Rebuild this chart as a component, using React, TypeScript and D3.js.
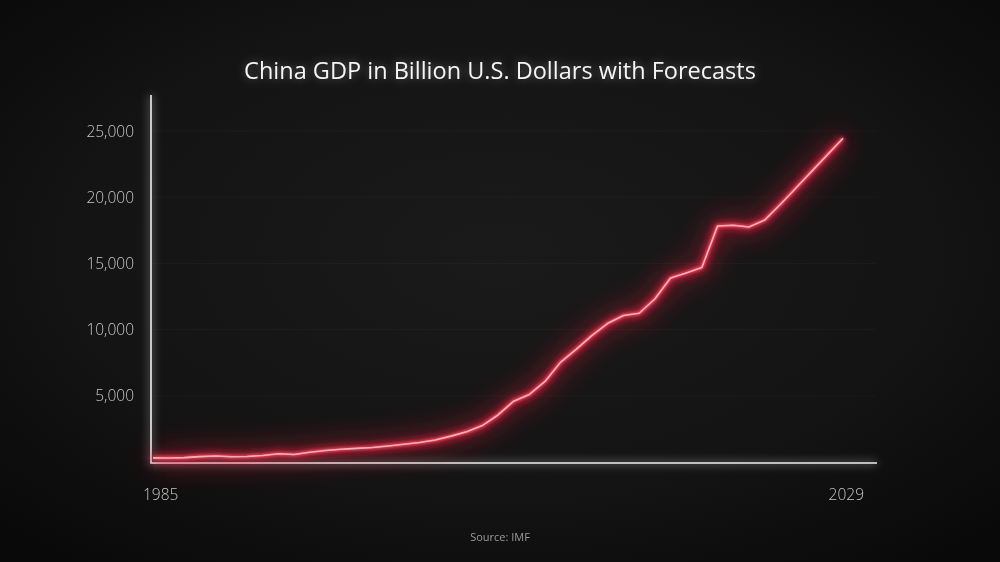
import React from "react";
import * as d3 from "d3";

const years: number[] = [
  1985, 1986, 1987, 1988, 1989, 1990, 1991, 1992, 1993, 1994, 1995, 1996, 1997, 1998, 1999,
  2000, 2001, 2002, 2003, 2004, 2005, 2006, 2007, 2008, 2009, 2010, 2011, 2012, 2013, 2014,
  2015, 2016, 2017, 2018, 2019, 2020, 2021, 2022, 2023, 2024, 2025, 2026, 2027, 2028, 2029,
];
const gdp: number[] = [
  310, 301, 327, 408, 457, 395, 415, 495, 623, 564, 737, 867, 965, 1029, 1094,
  1211, 1339, 1471, 1660, 1955, 2286, 2752, 3552, 4594, 5102, 6087, 7552, 8532, 9570, 10476,
  11062, 11233, 12310, 13895, 14280, 14688, 17820, 17882, 17750, 18273, 19450, 20700, 21950, 23200, 24450,
];
const yTicks: number[] = [5000, 10000, 15000, 20000, 25000];
const xLabels: number[] = [1985, 2029];
const title = "China GDP in Billion U.S. Dollars with Forecasts";
const source = "Source: IMF";

const W = 1000;
const H = 562;

export default function App() {
  const x = d3.scaleLinear().domain([1985, 2029]).range([153, 843]);
  const y = d3.scaleLinear().domain([0, 25000]).range([462, 131]);
  const data = years.map((yr, i) => ({ yr, v: gdp[i] }));
  const line = d3
    .line<{ yr: number; v: number }>()
    .x((d) => x(d.yr))
    .y((d) => y(d.v))
    .curve(d3.curveLinear);
  const path = line(data) || "";
  const fmt = d3.format(",");
  const axisLeft = 151;
  const axisRight = 877;
  const axisTop = 95;
  const axisBottom = 463;

  return (
    <svg
      width={W}
      height={H}
      viewBox={`0 0 ${W} ${H}`}
      style={{ position: "fixed", left: 0, top: 0, display: "block" }}
      fontFamily="'Open Sans', 'Noto Sans', sans-serif"
    >
      <defs>
        <radialGradient id="bg" cx="50%" cy="45%" r="70%">
          <stop offset="0%" stopColor="#1a1a1a" />
          <stop offset="60%" stopColor="#141414" />
          <stop offset="100%" stopColor="#090909" />
        </radialGradient>
        <filter id="glowWide" x="-20%" y="-50%" width="140%" height="200%">
          <feGaussianBlur stdDeviation="14" />
        </filter>
        <filter id="glowMid" x="-20%" y="-50%" width="140%" height="200%">
          <feGaussianBlur stdDeviation="4" />
        </filter>
        <filter id="glowSmall" x="-20%" y="-50%" width="140%" height="200%">
          <feGaussianBlur stdDeviation="1.5" />
        </filter>
        <filter id="textGlow" x="-20%" y="-100%" width="140%" height="300%">
          <feGaussianBlur stdDeviation="5" />
        </filter>
      </defs>
      <rect x={0} y={0} width={W} height={H} fill="url(#bg)" />

      {/* faint gridlines */}
      {yTicks.map((t) => (
        <line
          key={"g" + t}
          x1={axisLeft}
          x2={axisRight}
          y1={y(t)}
          y2={y(t)}
          stroke="#ffffff"
          strokeOpacity={0.03}
          strokeWidth={1}
        />
      ))}

      {/* title */}
      <text x={500} y={79} textAnchor="middle" fontSize={23.5} fill="#ffffff" opacity={0.35} filter="url(#textGlow)">
        {title}
      </text>
      <text x={500} y={79} textAnchor="middle" fontSize={23.5} fill="#f5f5f5">
        {title}
      </text>

      {/* axes glow */}
      <path
        d={`M${axisLeft},${axisTop}V${axisBottom}H${axisRight}`}
        fill="none"
        stroke="#ffffff"
        strokeWidth={4}
        opacity={0.35}
        filter="url(#glowMid)"
      />
      <path
        d={`M${axisLeft},${axisTop}V${axisBottom}H${axisRight}`}
        fill="none"
        stroke="#f0f0f0"
        strokeWidth={1.6}
      />

      {/* y tick labels */}
      {yTicks.map((t) => (
        <text
          key={"t" + t}
          x={134}
          y={y(t) + 5.5}
          textAnchor="end"
          fontSize={15.5}
          fontWeight={300}
          fill="#c8c8c8"
        >
          {fmt(t)}
        </text>
      ))}

      {/* x labels */}
      {xLabels.map((yr, i) => (
        <text
          key={"x" + yr}
          x={i === 0 ? x(yr) - 10 : x(yr) + 21}
          y={500}
          textAnchor={i === 0 ? "start" : "end"}
          fontSize={15.5}
          fontWeight={300}
          fill="#c8c8c8"
        >
          {yr}
        </text>
      ))}

      {/* glowing line */}
      <path d={path} fill="none" stroke="#ff1a3c" strokeWidth={14} opacity={0.45} filter="url(#glowWide)" />
      <path d={path} fill="none" stroke="#ff2040" strokeWidth={6} opacity={0.8} filter="url(#glowMid)" />
      <path d={path} fill="none" stroke="#ff4a62" strokeWidth={3} strokeLinejoin="round" filter="url(#glowSmall)" />
      <path d={path} fill="none" stroke="#ffb4bf" strokeWidth={1.6} strokeLinejoin="round" />

      {/* source */}
      <text x={500} y={541} textAnchor="middle" fontSize={11} fill="#9a9a9a">
        {source}
      </text>
    </svg>
  );
}
